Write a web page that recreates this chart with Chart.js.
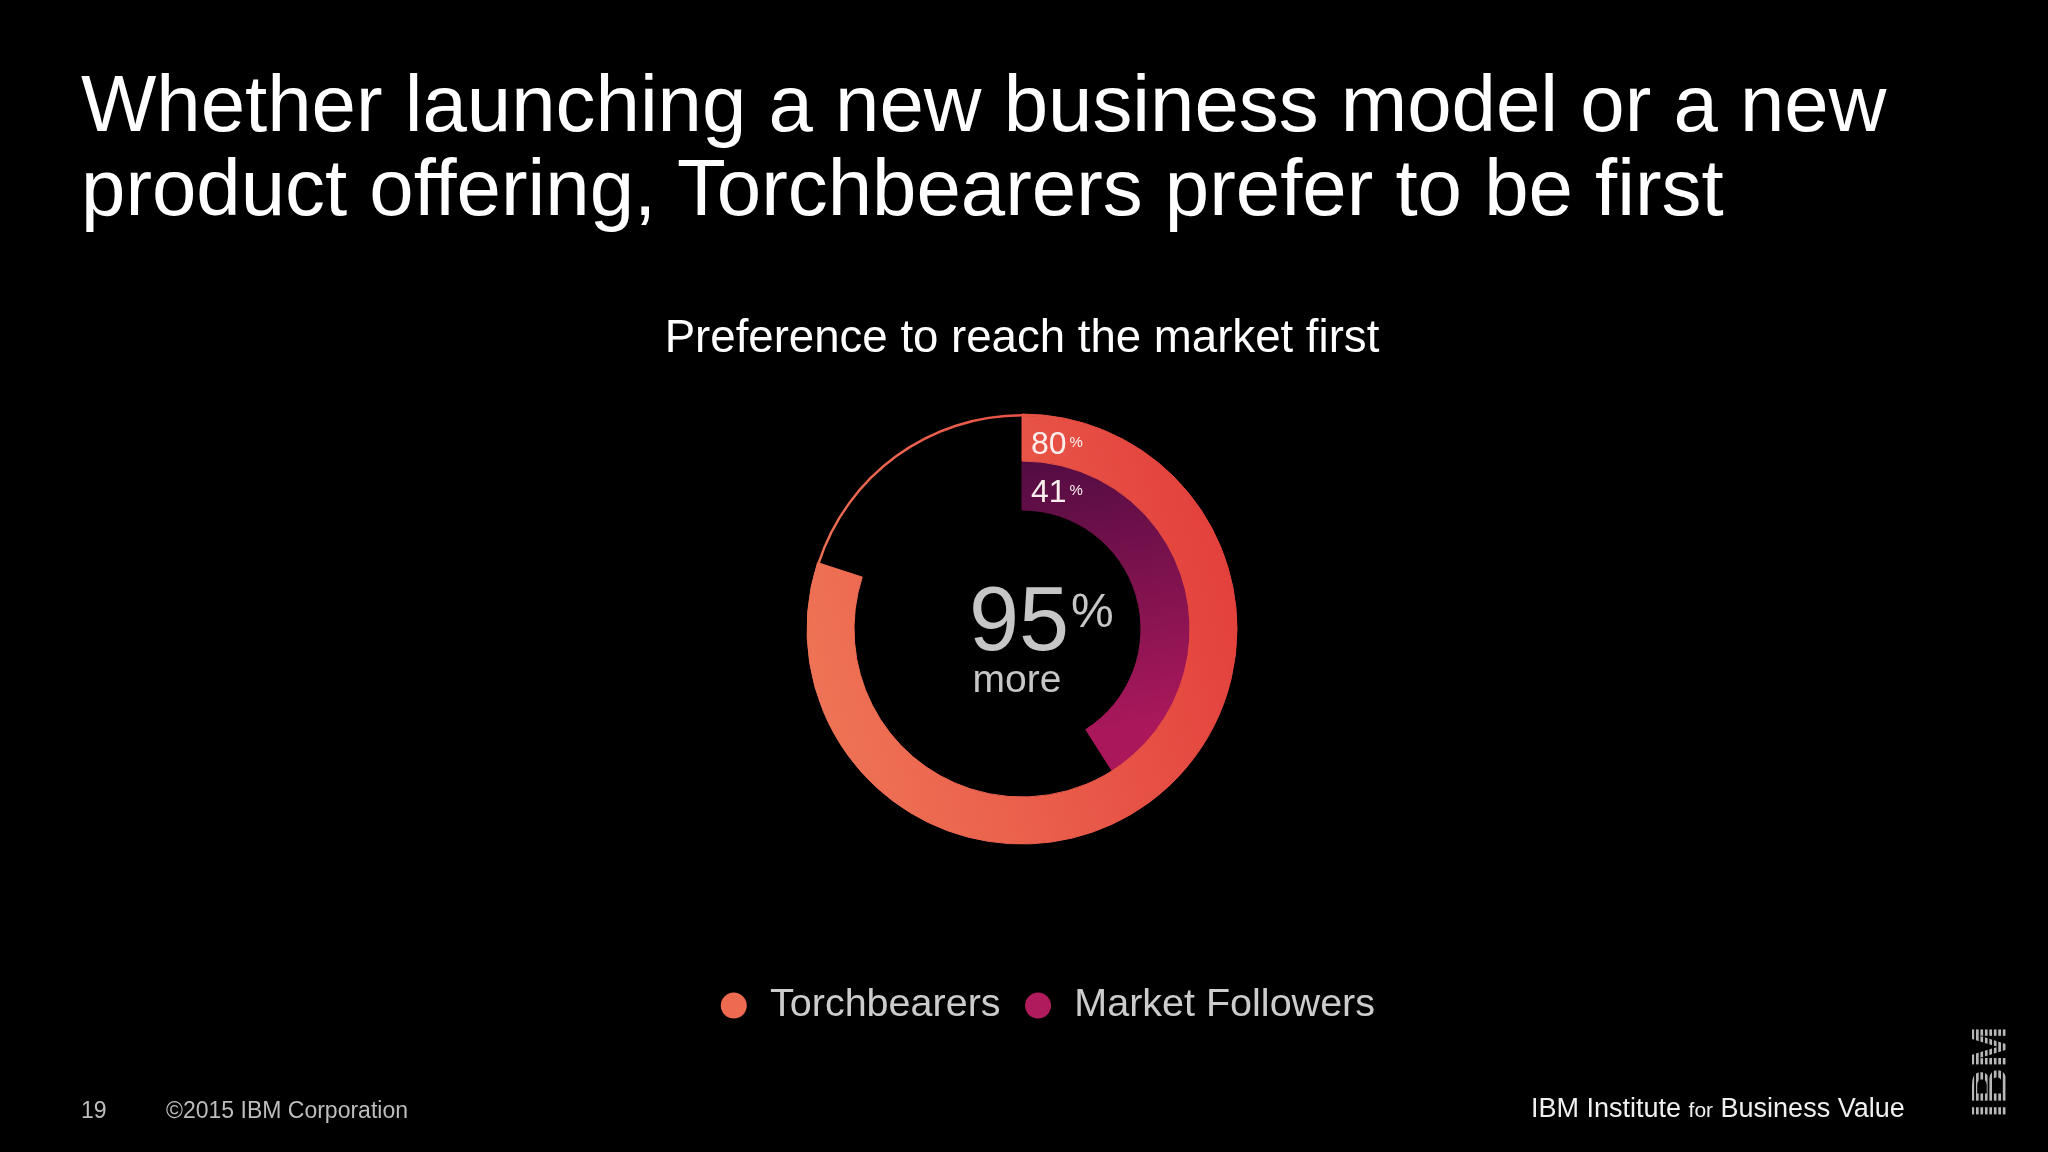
<!DOCTYPE html>
<html>
<head>
<meta charset="utf-8">
<script src="https://cdn.jsdelivr.net/npm/chart.js@4.4.1/dist/chart.umd.min.js"></script>
<style>
    html, body { margin: 0; padding: 0; background: #000; }
    body { width: 2048px; height: 1152px; position: relative; overflow: hidden; font-family: "Liberation Sans", Arial, sans-serif; }
    #heading { position: absolute; left: 81px; top: 62px; color: #fff; font-size: 79.8px; line-height: 84px; white-space: nowrap; }
    #chartBox { position: absolute; left: 0; top: 0; width: 2048px; height: 1152px; }
    .foot { position: absolute; color: #bdbdbd; font-size: 23px; white-space: nowrap; }
    #ibv { position: absolute; left: 1531px; top: 1093px; color: #f0f0f0; font-size: 27px; white-space: nowrap; }
    #ibv small { font-size: 21px; }
    #logo { position: absolute; left: 1944px; top: 1049px; width: 92px; height: 46px; transform: rotate(-90deg); transform-origin: 50% 50%;
        font-weight: bold; font-size: 50px; line-height: 46px; text-align: center; color: transparent;
        background-image: linear-gradient(to bottom, #b8b8b8 0 68%, transparent 68% 100%);
        background-size: 100% 4.475px; background-position: 0 4.5px;
        -webkit-background-clip: text; background-clip: text; }
</style>
</head>
<body>
<div id="heading">Whether launching a new business model or a new<br>product offering, Torchbearers prefer to be first</div>
<div id="chartBox"><canvas id="myChart" width="2048" height="1152"></canvas></div>
<div class="foot" style="left:81px; top:1097px;">19</div>
<div class="foot" style="left:166px; top:1097px;">©2015 IBM Corporation</div>
<div id="ibv">IBM Institute <small>for</small> Business Value</div>
<div id="logo">IBM</div>
<script>
// Chart values
const seriesNames = ['Torchbearers', 'Market Followers'];
const torchbearers = [80, 20];      // % preferring to reach the market first, remainder
const marketFollowers = [41, 59];
const centerValue = '95';
const centerLabel = 'more';
const chartTitle = 'Preference to reach the market first';
const legendColors = ['#ee6b52', '#b01b5e'];

// Gradients follow the chart centre
function ringGradient(chart, kind) {
    const area = chart.chartArea;
    if (!area) return kind === 'outer' ? '#e95a48' : '#8a1452';
    const cx = (area.left + area.right) / 2;
    const cy = (area.top + area.bottom) / 2;
    const ctx = chart.ctx;
    let g;
    if (kind === 'outer') {
        g = ctx.createLinearGradient(cx + 215, cy - 60, cx - 215, cy + 60);
        g.addColorStop(0, '#e3403c');
        g.addColorStop(1, '#ef7456');
    } else {
        g = ctx.createLinearGradient(cx, cy - 168, cx + 60, cy + 110);
        g.addColorStop(0, '#520c42');
        g.addColorStop(1, '#aa185b');
    }
    return g;
}

// Labels on the rings and text in the middle
const ringText = {
    id: 'ringText',
    afterDatasetsDraw(chart) {
        const ctx = chart.ctx;
        const outer = chart.getDatasetMeta(0).data[0];
        const thick = chart.getDatasetMeta(1).data[0];
        const inner = chart.getDatasetMeta(2).data[0];
        const cx = outer.x, cy = outer.y;
        ctx.save();
        ctx.textBaseline = 'alphabetic';

        const ringLabel = (value, rIn, rOut) => {
            const base = cy - (rIn + rOut) / 2 + 16.5;
            ctx.fillStyle = '#fbefee';
            ctx.textAlign = 'left';
            ctx.font = '32px "Liberation Sans", Arial, sans-serif';
            ctx.fillText(value, cx + 9, base);
            const w = ctx.measureText(value).width;
            ctx.font = '15px "Liberation Sans", Arial, sans-serif';
            ctx.fillText('%', cx + 12 + w, base - 7);
        };
        ringLabel(String(torchbearers[0]), thick.innerRadius, outer.outerRadius);
        ringLabel(String(marketFollowers[0]), inner.innerRadius, inner.outerRadius);

        ctx.fillStyle = '#c6c6c6';
        ctx.textAlign = 'right';
        ctx.font = '90px "Liberation Sans", Arial, sans-serif';
        ctx.fillText(centerValue, cx + 47, cy + 21);
        ctx.textAlign = 'left';
        ctx.font = '48px "Liberation Sans", Arial, sans-serif';
        ctx.fillText('%', cx + 49, cy - 2);
        ctx.textAlign = 'center';
        ctx.font = '39px "Liberation Sans", Arial, sans-serif';
        ctx.fillText(centerLabel, cx - 5, cy + 63);
        ctx.restore();
    }
};

Chart.defaults.font.family = '"Liberation Sans", Arial, sans-serif';

const ctx = document.getElementById('myChart').getContext('2d');
window.prefChart = new Chart(ctx, {
    type: 'doughnut',
    data: {
        labels: ['Prefer first', 'Other'],
        datasets: [{
            label: seriesNames[0],
            data: torchbearers,
            weight: 2.5,
            backgroundColor: c => ringGradient(c.chart, 'outer'),
            borderColor: c => ringGradient(c.chart, 'outer'),
            borderWidth: [1, 0]
        }, {
            label: seriesNames[0],
            data: torchbearers,
            weight: 44.5,
            backgroundColor: c => c.dataIndex === 0 ? ringGradient(c.chart, 'outer') : 'transparent',
            borderColor: c => c.dataIndex === 0 ? ringGradient(c.chart, 'outer') : 'transparent',
            borderWidth: [1, 0]
        }, {
            label: seriesNames[1],
            data: marketFollowers,
            weight: 49,
            backgroundColor: c => c.dataIndex === 0 ? ringGradient(c.chart, 'inner') : 'transparent',
            borderColor: c => c.dataIndex === 0 ? ringGradient(c.chart, 'inner') : 'transparent',
            borderWidth: [1, 0]
        }]
    },
    options: {
        responsive: false,
        animation: false,
        radius: 215,
        cutout: '55.35%',
        layout: {
            padding: { top: 0, left: 648, right: 652, bottom: 116.65 }
        },
        plugins: {
            title: {
                display: true,
                text: chartTitle,
                color: '#ffffff',
                font: { size: 45.6, weight: 'normal' },
                padding: { top: 312.4, bottom: 46.9 }
            },
            legend: {
                position: 'bottom',
                align: 'end',
                title: { display: true, text: '', font: { size: 10 }, padding: { top: 108.85, bottom: 0 } },
                labels: {
                    usePointStyle: true,
                    boxWidth: 33,
                    boxHeight: 18.4,
                    padding: 21,
                    color: '#cccccc',
                    font: { size: 39.5 },
                    generateLabels: () => seriesNames.map((name, i) => ({
                        text: name,
                        fillStyle: legendColors[i],
                        strokeStyle: legendColors[i],
                        lineWidth: 0,
                        pointStyle: 'circle',
                        fontColor: '#cccccc',
                        hidden: false,
                        index: i
                    }))
                },
                onClick: () => {}
            },
            tooltip: { enabled: false }
        }
    },
    plugins: [ringText]
});
</script>
</body>
</html>
